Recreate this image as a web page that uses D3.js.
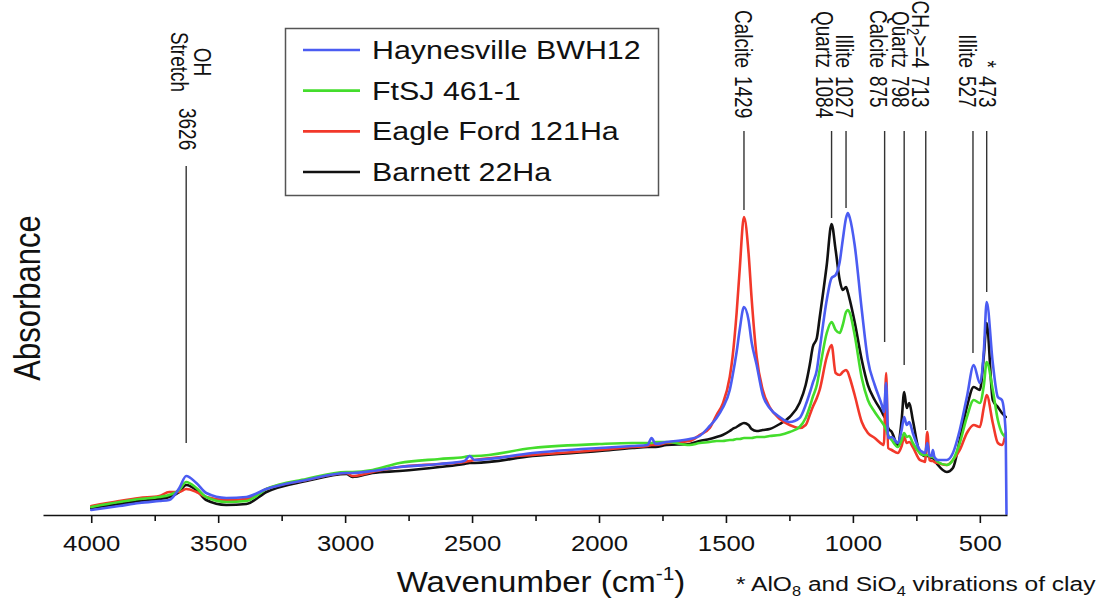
<!DOCTYPE html>
<html>
<head>
<meta charset="utf-8">
<script src="https://cdn.jsdelivr.net/npm/d3@7"></script>
<style>
  html, body { margin: 0; padding: 0; background: #fff; }
  svg { display: block; font-family: "Liberation Sans", Arial, Helvetica, sans-serif; }
</style>
</head>
<body>
<svg id="chart" width="1103" height="601"></svg>
<script>
// FTIR absorbance spectra (arbitrary units, x1e-3) of four shale samples
const wavenumbers = [
  4000, 3890, 3811, 3732, 3693, 3653, 3626, 3586, 3547, 3468, 3389, 3310, 3153, 2995, 2971, 2892,
  2786, 2628, 2530, 2510, 2490, 2262, 1998, 1868, 1809, 1793, 1777, 1734, 1643, 1604, 1564, 1537,
  1513, 1485, 1474, 1458, 1446, 1429, 1411, 1399, 1379, 1355, 1328, 1288, 1249, 1210, 1186, 1170,
  1158, 1142, 1131, 1103, 1084, 1068, 1052, 1040, 1027, 1020, 1012, 993, 965, 941, 914, 886,
  878, 869, 861, 847, 823, 808, 798, 788, 778, 764, 736, 725, 716, 707, 698, 690,
  685, 679, 665, 630, 606, 579, 551, 524, 500, 484, 473, 449, 429, 413, 398, 395
];

const haynesville = [
  5, 9, 12, 14, 15, 27, 39, 32, 22, 17, 18, 26, 35, 42, 42, 44,
  48, 51, 54, 59, 55, 62, 67, 69, 70, 77, 71, 73, 76, 79, 89, 97,
  107, 125, 139, 163, 185, 208, 195, 173, 150, 120, 107, 98, 93, 97, 110, 122,
  132, 145, 165, 215, 237, 240, 253, 275, 297, 302, 297, 270, 205, 155, 130, 110,
  103, 132, 77, 78, 72, 85, 98, 90, 93, 82, 65, 63, 62, 72, 60, 59,
  65, 58, 55, 55, 62, 85, 118, 150, 132, 165, 213, 152, 118, 115, 82, 1
];

const ftsj = [
  8, 13, 16, 18, 20, 25, 33, 27, 18, 13, 14, 26, 36, 43, 43, 45,
  52, 56, 58, 59, 59, 67, 71, 72, 72, 72, 73, 73, 70, 72, 73, 74,
  74, 75, 75, 76, 76, 77, 77, 77, 78, 78, 79, 80, 83, 88, 97, 108,
  118, 130, 145, 182, 193, 185, 182, 190, 203, 205, 202, 180, 137, 115, 103, 93,
  90, 85, 80, 75, 68, 75, 82, 78, 79, 72, 62, 60, 60, 60, 59, 58,
  58, 57, 53, 50, 55, 72, 98, 115, 112, 130, 153, 125, 95, 82, 78, null
];

const eagleFord = [
  9, 14, 17, 19, 23, 23, 26, 23, 18, 15, 16, 26, 35, 42, 39, 43,
  48, 51, 53, 54, 55, 60, 65, 68, 69, 70, 70, 72, 74, 80, 87, 100,
  111, 138, 158, 202, 245, 298, 262, 217, 158, 125, 108, 96, 90, 87, 90, 100,
  108, 117, 125, 158, 170, 142, 140, 143, 145, 143, 137, 120, 93, 82, 77, 71,
  70, 142, 67, 65, 62, 69, 78, 72, 73, 68, 55, 54, 53, 83, 55, 54,
  54, 53, 52, 50, 55, 65, 82, 90, 88, 108, 120, 92, 72, 70, 82, null
];

const barnett = [
  7, 11, 14, 16, 18, 23, 30, 25, 15, 10, 11, 23, 34, 41, 38, 42,
  44, 48, 51, 52, 52, 59, 64, 67, 68, 68, 68, 70, 71, 74, 76, 78,
  80, 84, 86, 88, 90, 92, 90, 86, 84, 85, 86, 91, 98, 112, 130, 150,
  168, 177, 197, 250, 291, 265, 235, 225, 228, 223, 215, 193, 155, 130, 115, 103,
  99, 95, 87, 83, 70, 95, 123, 107, 112, 95, 62, 60, 59, 59, 58, 57,
  57, 55, 50, 43, 47, 75, 108, 128, 125, 160, 192, 115, 108, 102, 98, null
];

const seriesNames = ["Haynesville BWH12", "FtSJ 461-1", "Eagle Ford 121Ha", "Barnett 22Ha"];

const majorTicks = [4000, 3500, 3000, 2500, 2000, 1500, 1000, 500];
const minorTicks = [3750, 3250, 2750, 2250, 1750, 1250, 750];

// Band assignments marked above the spectra
const peakWavenumbers = [3626, 1429, 1084, 1027, 875, 798, 713, 527, 473];
const peakNames = [["OH", "Stretch"], ["Calcite"], ["Quartz"], ["Illite"], ["Calcite"], ["Quartz"], ["CH₂>=4"], ["Illite"], ["*"]];
const leaderEnds = [72, 305, 297, 307, 173, 150, 85, 162, 223];

// ---------------------------------------------------------------
const svg = d3.select("#chart");
const colors = ["#4b5cf2", "#44dd2c", "#f2382a", "#111111"];
const SX = 1.17;          // horizontal glyph stretch for horizontal text
const SX_ROT = 1.3;       // same stretch for the rotated band labels
// sideways nudge of each band label column so neighbouring labels do not collide
const labelShift = [0, 0, -7, -1, -6, -4, -5, -5, 1];

const x = d3.scaleLinear().domain([4190, 393]).range([43, 1007]);
const y = d3.scaleLinear().domain([0, 500]).range([515, 15]);

const seriesValues = [haynesville, ftsj, eagleFord, barnett];
const series = seriesNames.map((name, i) => ({
  name,
  color: colors[i],
  points: wavenumbers.map((w, j) => [w, seriesValues[i][j]])
}));

const line = d3.line()
  .defined(d => d[1] != null)
  .x(d => x(d[0]))
  .y(d => y(d[1]))
  .curve(d3.curveMonotoneX);

// draw Barnett first, Haynesville last (on top)
svg.append("g").attr("class", "spectra")
  .selectAll("path")
  .data(series.slice().reverse())
  .join("path")
  .attr("d", d => line(d.points))
  .attr("fill", "none")
  .attr("stroke", d => d.color)
  .attr("stroke-width", 2.6)
  .attr("stroke-linejoin", "round")
  .attr("stroke-linecap", "round");

// x axis: labelled major ticks plus unlabelled minor ticks
const axisG = svg.append("g").attr("transform", `translate(0,${y(0)})`);
axisG.call(d3.axisBottom(x).tickValues(majorTicks).tickSize(8).tickSizeOuter(0).tickFormat(d3.format("d")));
axisG.select(".domain").attr("stroke", "#111").attr("stroke-width", 1.6);
axisG.selectAll(".tick line").attr("stroke", "#111").attr("stroke-width", 1.6);
axisG.selectAll(".tick text")
  .attr("y", 20)
  .attr("font-size", 22)
  .attr("font-family", "Liberation Sans, Arial, sans-serif")
  .attr("fill", "#111")
  .attr("transform", `scale(${SX},1)`);

const minorG = svg.append("g").attr("transform", `translate(0,${y(0)})`);
minorG.call(d3.axisBottom(x).tickValues(minorTicks).tickSize(6).tickSizeOuter(0).tickFormat(""));
minorG.select(".domain").remove();
minorG.selectAll(".tick line").attr("stroke", "#111").attr("stroke-width", 1.6);

// axis titles
const xTitle = svg.append("text")
  .attr("transform", `translate(541,592) scale(1.1,1)`)
  .attr("text-anchor", "middle")
  .attr("font-size", 30)
  .attr("fill", "#111");
xTitle.append("tspan").text("Wavenumber (cm");
xTitle.append("tspan").attr("font-size", 19).attr("dy", -12).text("-1");
xTitle.append("tspan").attr("dy", 12).text(")");

svg.append("text")
  .attr("transform", `translate(40,298) scale(${SX},1) rotate(-90)`)
  .attr("text-anchor", "middle")
  .attr("font-size", 31)
  .attr("fill", "#111")
  .text("Absorbance");

// footnote
const note = svg.append("text")
  .attr("transform", `translate(736,591) scale(${SX},1)`)
  .attr("font-size", 21)
  .attr("fill", "#111");
note.append("tspan").text("* AlO");
note.append("tspan").attr("font-size", 14).attr("dy", 5).text("8");
note.append("tspan").attr("dy", -5).text(" and SiO");
note.append("tspan").attr("font-size", 14).attr("dy", 5).text("4");
note.append("tspan").attr("dy", -5).text(" vibrations of clay");

// band annotations: leader lines and rotated labels
const annG = svg.append("g").attr("class", "bands");
const labelFont = 19;

function writeName(textSel, name) {
  // supports a subscript written as ₂
  const parts = name.split("₂");
  textSel.append("tspan").text(parts[0]);
  if (parts.length > 1) {
    textSel.append("tspan").attr("font-size", 13).attr("dy", 4).text("2");
    textSel.append("tspan").attr("dy", -4).text(parts[1]);
  }
}

function rotatedText(cx, u, anchor) {
  return annG.append("text")
    .attr("transform", `translate(${cx},${u}) scale(${SX_ROT},1) rotate(90)`)
    .attr("text-anchor", anchor)
    .attr("dy", "0.35em")
    .attr("font-size", labelFont)
    .attr("fill", "#111");
}

peakWavenumbers.forEach((w, i) => {
  const x0 = x(w);
  const names = peakNames[i];
  const stacked = names.length > 1;
  annG.append("line")
    .attr("x1", x0).attr("x2", x0)
    .attr("y1", stacked ? 166 : 131)
    .attr("y2", y(leaderEnds[i]))
    .attr("stroke", "#333")
    .attr("stroke-width", 1.4);

  if (stacked) {
    rotatedText(x0 + 1, 108, "start").text(String(w));
    names.forEach((n, k) => {
      rotatedText(x0 + 16 - k * 23, 62, "middle").call(t => writeName(t, n));
    });
  } else {
    const cx = x0 + labelShift[i];
    rotatedText(cx, 68, "end").call(t => writeName(t, names[0]));
    rotatedText(cx, 76, "start").text(String(w));
  }
});

// legend
const legend = svg.append("g").attr("class", "legend");
legend.append("rect")
  .attr("x", 285.5).attr("y", 28.5)
  .attr("width", 373).attr("height", 167)
  .attr("fill", "#fff")
  .attr("stroke", "#555")
  .attr("stroke-width", 1.5);

const rowY = d3.scalePoint().domain(seriesNames).range([50, 172]);
const rows = legend.selectAll("g.row").data(series).join("g").attr("class", "row")
  .attr("transform", d => `translate(0,${rowY(d.name)})`);
rows.append("line")
  .attr("x1", 303).attr("x2", 360)
  .attr("stroke", d => d.color)
  .attr("stroke-width", 2.6);
rows.append("text")
  .attr("transform", `translate(372,0) scale(${SX},1)`)
  .attr("dy", "0.35em")
  .attr("font-size", 26)
  .attr("fill", "#111")
  .text(d => d.name);
</script>
</body>
</html>
